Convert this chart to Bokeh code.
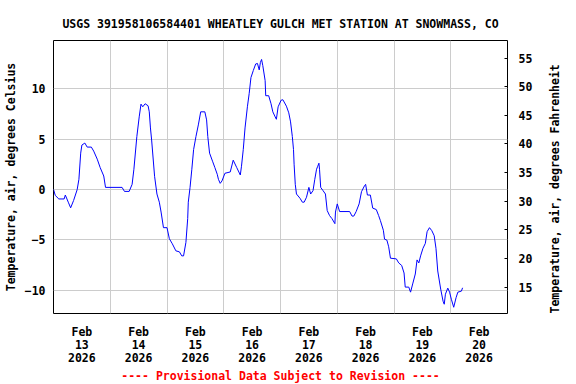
import math
import pandas as pd
from bokeh.plotting import figure
from bokeh.models import Range1d, LinearAxis, FixedTicker, DatetimeTickFormatter, Title
from bokeh.embed import file_html
from bokeh.resources import INLINE

title_text = "USGS 391958106584401 WHEATLEY GULCH MET STATION AT SNOWMASS, CO"
left_label = "Temperature, air, degrees Celsius"
right_label = "Temperature, air, degrees Fahrenheit"
footer_text = "---- Provisional Data Subject to Revision ----"

times = [
    "2026-02-13 00:00", "2026-02-13 00:45", "2026-02-13 02:15", "2026-02-13 04:30", "2026-02-13 05:00",
    "2026-02-13 06:15", "2026-02-13 07:15", "2026-02-13 08:30", "2026-02-13 10:00", "2026-02-13 10:45",
    "2026-02-13 11:30", "2026-02-13 12:00", "2026-02-13 13:15", "2026-02-13 14:15", "2026-02-13 16:00",
    "2026-02-13 17:00", "2026-02-13 18:30", "2026-02-13 19:45", "2026-02-13 21:15", "2026-02-13 22:00",
    "2026-02-14 05:00", "2026-02-14 06:00", "2026-02-14 08:00", "2026-02-14 09:15", "2026-02-14 10:00",
    "2026-02-14 11:15", "2026-02-14 12:15", "2026-02-14 13:00", "2026-02-14 13:45", "2026-02-14 14:45",
    "2026-02-14 16:00", "2026-02-14 16:30", "2026-02-14 17:00", "2026-02-14 17:30", "2026-02-14 18:45",
    "2026-02-14 19:45", "2026-02-14 20:45", "2026-02-14 21:30", "2026-02-14 22:30",
    "2026-02-15 00:00", "2026-02-15 01:00", "2026-02-15 02:15", "2026-02-15 03:45", "2026-02-15 05:15",
    "2026-02-15 06:15", "2026-02-15 07:00", "2026-02-15 08:00", "2026-02-15 08:45", "2026-02-15 09:00",
    "2026-02-15 09:45", "2026-02-15 10:30", "2026-02-15 11:15", "2026-02-15 12:15", "2026-02-15 13:15",
    "2026-02-15 14:15", "2026-02-15 16:00", "2026-02-15 16:45", "2026-02-15 17:15", "2026-02-15 18:00",
    "2026-02-15 19:15", "2026-02-15 20:15", "2026-02-15 21:15", "2026-02-15 21:45", "2026-02-15 22:30",
    "2026-02-15 23:15",
    "2026-02-16 00:30", "2026-02-16 02:45", "2026-02-16 04:00", "2026-02-16 05:30", "2026-02-16 07:00",
    "2026-02-16 07:30", "2026-02-16 08:15", "2026-02-16 09:00", "2026-02-16 10:00", "2026-02-16 10:45",
    "2026-02-16 11:30", "2026-02-16 12:30", "2026-02-16 13:30", "2026-02-16 14:15", "2026-02-16 15:00",
    "2026-02-16 15:30", "2026-02-16 16:00", "2026-02-16 16:30", "2026-02-16 17:30", "2026-02-16 17:45",
    "2026-02-16 19:00", "2026-02-16 20:00", "2026-02-16 20:45", "2026-02-16 21:45", "2026-02-16 22:15",
    "2026-02-16 23:00",
    "2026-02-17 00:15", "2026-02-17 01:00", "2026-02-17 02:30", "2026-02-17 03:30", "2026-02-17 04:15",
    "2026-02-17 05:00", "2026-02-17 05:30", "2026-02-17 05:45", "2026-02-17 06:15", "2026-02-17 06:45",
    "2026-02-17 08:15", "2026-02-17 09:15", "2026-02-17 10:00", "2026-02-17 11:00", "2026-02-17 12:00",
    "2026-02-17 12:45", "2026-02-17 13:45", "2026-02-17 14:30", "2026-02-17 15:15", "2026-02-17 15:45",
    "2026-02-17 16:15", "2026-02-17 16:30", "2026-02-17 17:00", "2026-02-17 18:00", "2026-02-17 19:00",
    "2026-02-17 19:45", "2026-02-17 20:45", "2026-02-17 21:45", "2026-02-17 23:00", "2026-02-17 23:15",
    "2026-02-18 00:00", "2026-02-18 01:00", "2026-02-18 05:15", "2026-02-18 06:15", "2026-02-18 07:00",
    "2026-02-18 08:00", "2026-02-18 09:15", "2026-02-18 10:15", "2026-02-18 11:30", "2026-02-18 12:00",
    "2026-02-18 12:45", "2026-02-18 14:00", "2026-02-18 15:00", "2026-02-18 16:30", "2026-02-18 17:30",
    "2026-02-18 18:15", "2026-02-18 19:30", "2026-02-18 20:00", "2026-02-18 21:00", "2026-02-18 21:45",
    "2026-02-18 22:30",
    "2026-02-19 01:00", "2026-02-19 02:00", "2026-02-19 03:15", "2026-02-19 04:15", "2026-02-19 04:45",
    "2026-02-19 06:15", "2026-02-19 07:00", "2026-02-19 08:00", "2026-02-19 09:00", "2026-02-19 09:45",
    "2026-02-19 10:30", "2026-02-19 11:15", "2026-02-19 12:15", "2026-02-19 13:15", "2026-02-19 14:00",
    "2026-02-19 15:00", "2026-02-19 16:00", "2026-02-19 17:00", "2026-02-19 17:45", "2026-02-19 18:30",
    "2026-02-19 19:45", "2026-02-19 20:45", "2026-02-19 21:15", "2026-02-19 21:45", "2026-02-19 22:45",
    "2026-02-19 23:30",
    "2026-02-20 00:15", "2026-02-20 01:15", "2026-02-20 02:15", "2026-02-20 03:00", "2026-02-20 04:30",
    "2026-02-20 05:00",
]

temp_c = [
    0.0, -0.6, -0.95, -0.95, -0.56,
    -1.27, -1.83, -1.1, -0.03, 1.0,
    3.6, 4.4, 4.6, 4.2, 4.2,
    3.8, 3.0, 2.16, 1.33, 0.2,
    0.2, -0.2, -0.2, 0.5, 2.0,
    5.25, 7.2, 8.46, 8.2, 8.5,
    8.3, 7.7, 6.1, 4.9, 1.3,
    -0.46, -1.27, -2.25, -3.8,
    -3.8, -4.9, -5.4, -6.1, -6.2,
    -6.6, -6.6, -5.26, -2.9, -1.27,
    0.2, 2.0, 3.95, 5.25, 6.4,
    7.7, 7.7, 6.9, 5.25, 3.6,
    2.8, 2.16, 1.5, 1.0, 0.6,
    0.84,
    1.6, 1.73, 2.9, 2.16, 1.43,
    2.3, 3.95, 6.1, 8.2, 9.5,
    11.1, 11.8, 12.45, 12.5, 11.86,
    12.6, 12.9, 12.3, 10.8, 9.3,
    9.3, 8.5, 7.7, 7.2, 6.96,
    8.2,
    8.85, 8.9, 8.26, 7.6, 6.7,
    5.25, 3.95, 2.5, 0.5, -0.46,
    -0.88, -1.27, -1.27, -0.78, 0.2,
    -0.46, -0.13, 1.0, 2.0, 2.3,
    2.6, 2.0, 0.2, -0.13, -0.46,
    -2.1, -2.6, -2.9, -3.4, -2.25,
    -1.44, -2.2, -2.2, -2.65, -2.65,
    -2.2, -1.44, -0.23, 0.35, 0.5,
    -0.56, -0.56, -1.86, -2.0, -2.6,
    -3.1, -4.06, -4.94, -5.04, -5.7,
    -6.83,
    -6.9, -7.3, -7.55, -8.3, -9.7,
    -9.7, -10.2, -9.3, -8.4, -7.0,
    -7.3, -6.6, -5.85, -5.36, -4.2,
    -3.8, -4.1, -4.6, -5.85, -8.1,
    -9.9, -11.1, -11.4, -10.4, -9.8,
    -10.2,
    -10.9, -11.7, -10.75, -10.2, -10.1,
    -9.77,
]

day_starts = ["2026-02-13", "2026-02-14", "2026-02-15", "2026-02-16", "2026-02-17",
              "2026-02-18", "2026-02-19", "2026-02-20", "2026-02-21"]
label_days = ["2026-02-13 12:00", "2026-02-14 12:00", "2026-02-15 12:00", "2026-02-16 12:00",
              "2026-02-17 12:00", "2026-02-18 12:00", "2026-02-19 12:00", "2026-02-20 12:00"]
celsius_ticks = [-10, -5, 0, 5, 10]
fahrenheit_ticks = [15, 20, 25, 30, 35, 40, 45, 50, 55]
celsius_range = (-12.32, 14.78)
fahrenheit_range = (10.4, 58.07)

FONT = "DejaVu Sans Mono"
FS = "11.5px"

def ms(s):
    return pd.Timestamp(s).value // 10**6

x = pd.to_datetime(times)

p = figure(width=576, height=384, output_backend="svg", toolbar_location=None,
           x_axis_type="datetime",
           x_range=Range1d(pd.Timestamp(day_starts[0]), pd.Timestamp(day_starts[-1])),
           y_range=Range1d(*celsius_range),
           min_border_left=51, min_border_right=69, min_border_top=40, min_border_bottom=68)
p.extra_y_ranges = {"F": Range1d(*fahrenheit_range)}

p.background_fill_color = "white"
p.border_fill_color = "white"
p.outline_line_color = "black"
p.outline_line_width = 1

# title
p.title.text = title_text
p.title.align = "center"
p.title.text_font = FONT
p.title.text_font_style = "bold"
p.title.text_font_size = FS
p.title.text_color = "black"
p.title.standoff = 19

p.line(x, temp_c, line_color="#0000ff", line_width=1)

# x axis
xa = p.xaxis[0]
xa.ticker = FixedTicker(ticks=[ms(s) for s in label_days])
fmt = "%b\n%d\n%Y"
xa.formatter = DatetimeTickFormatter(microseconds=fmt, milliseconds=fmt, seconds=fmt, minsec=fmt,
                                     minutes=fmt, hourmin=fmt, hours=fmt, days=fmt, months=fmt, years=fmt)
xa.major_tick_line_color = None
xa.major_tick_out = 0
xa.major_tick_in = 0
xa.minor_tick_line_color = None
xa.minor_tick_out = 0
xa.axis_line_color = None
xa.major_label_standoff = 11
xa.major_label_text_font = FONT
xa.major_label_text_font_style = "bold"
xa.major_label_text_font_size = FS
xa.major_label_text_color = "black"
xa.major_label_text_line_height = 0.96

# left axis
ya = p.yaxis[0]
ya.ticker = FixedTicker(ticks=celsius_ticks)
ya.major_tick_line_color = None
ya.major_tick_out = 0
ya.major_tick_in = 0
ya.minor_tick_line_color = None
ya.minor_tick_out = 0
ya.axis_line_color = None
ya.major_label_standoff = 8
ya.major_label_text_font = FONT
ya.major_label_text_font_style = "bold"
ya.major_label_text_font_size = FS
ya.major_label_text_color = "black"
ya.axis_label = left_label
ya.axis_label_standoff = 4
ya.axis_label_text_font = FONT
ya.axis_label_text_font_style = "bold"
ya.axis_label_text_font_size = FS
ya.axis_label_text_color = "black"

# right axis
ra = LinearAxis(y_range_name="F", ticker=FixedTicker(ticks=fahrenheit_ticks))
ra.major_tick_in = 3
ra.major_tick_out = 0
ra.major_tick_line_color = "black"
ra.minor_tick_line_color = None
ra.minor_tick_out = 0
ra.axis_line_color = None
ra.major_label_standoff = 11
ra.major_label_text_font = FONT
ra.major_label_text_font_style = "bold"
ra.major_label_text_font_size = FS
ra.major_label_text_color = "black"
ra.axis_label = right_label
ra.axis_label_standoff = 20
ra.axis_label_text_font = FONT
ra.axis_label_text_font_style = "bold"
ra.axis_label_text_font_size = FS
ra.axis_label_text_color = "black"
try:
    ra.axis_label_orientation = math.pi / 2
except Exception:
    pass
try:
    ra.axis_label_align = "start"
except Exception:
    try:
        ra.axis_label_align = "left"
    except Exception:
        pass
p.add_layout(ra, "right")

# footer
footer = Title(text=footer_text, align="center", vertical_align="top", text_font=FONT,
               text_font_style="bold", text_font_size=FS, text_color="#ff0000", standoff=0)
p.add_layout(footer, "below")

# grids
p.xgrid.ticker = FixedTicker(ticks=[ms(s) for s in day_starts])
p.xgrid.grid_line_color = "#cccccc"
p.xgrid.grid_line_width = 1
p.ygrid.ticker = FixedTicker(ticks=celsius_ticks)
p.ygrid.grid_line_color = "#cccccc"
p.ygrid.grid_line_width = 1

open("out.html", "w").write(file_html(p, INLINE))
